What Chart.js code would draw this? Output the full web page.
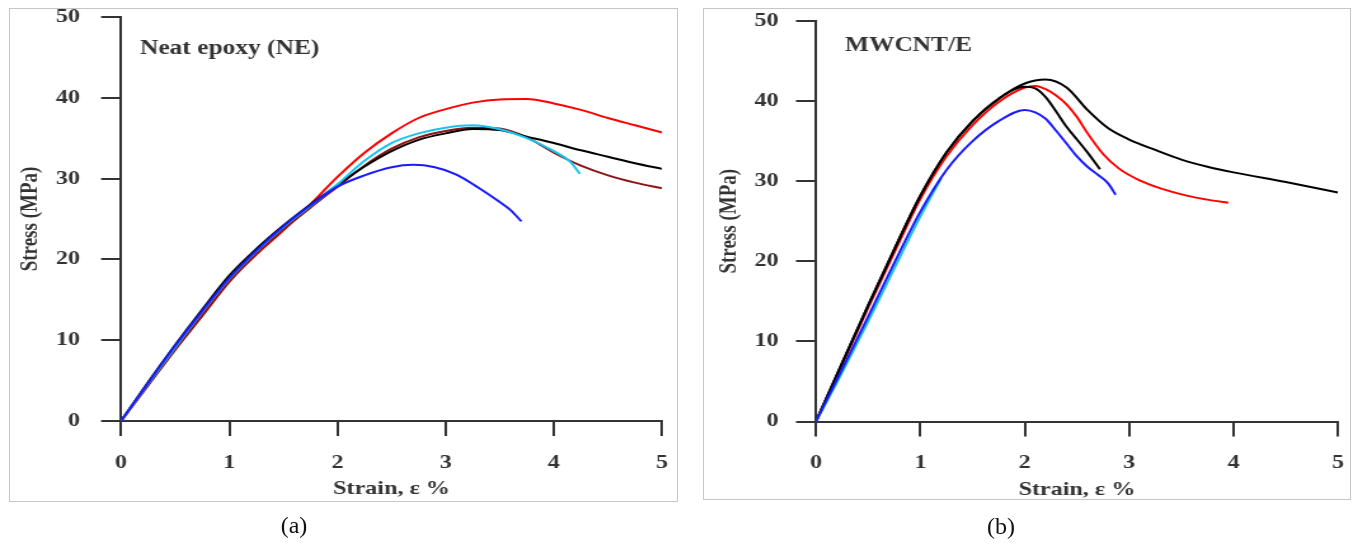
<!DOCTYPE html>
<html><head><meta charset="utf-8">
<script src="https://cdn.jsdelivr.net/npm/chart.js@4"></script>
<style>
html,body{margin:0;padding:0;background:#fff;}
#stage{position:relative;width:1352px;height:544px;overflow:hidden;background:#fff;}
.frame{position:absolute;border:1px solid #c6c6c6;box-sizing:border-box;}
.wrap{position:absolute;top:0;height:544px;transform-origin:0 0;transform:scaleX(1.27);}
.cap{position:absolute;font-family:"Liberation Serif","Times New Roman",serif;font-size:24px;color:#111;transform:translate(-50%,-50%);white-space:nowrap;}
</style></head>
<body><div id="stage">
<div class="frame" style="left:9px;top:8px;width:669px;height:494px"></div>
<div class="frame" style="left:703px;top:8px;width:648px;height:492px"></div>
<div class="wrap" style="left:0;width:535px"><canvas id="c1" width="535" height="544"></canvas></div>
<div class="wrap" style="left:690px;width:521px"><canvas id="c2" width="521" height="544"></canvas></div>
<div class="cap" style="left:294px;top:525px">(a)</div>
<div class="cap" style="left:1001px;top:526px">(b)</div>
</div>
<script>
// ---- tick labels ----
const xTicks = [0, 1, 2, 3, 4, 5];
const yTicks = [0, 10, 20, 30, 40, 50];
const xTitle = 'Strain, ε %';
const yTitle = 'Stress (MPa)';
const panelA = 'Neat epoxy (NE)';
const panelB = 'MWCNT/E';

// ---- (a) Neat epoxy: strain (%) and stress (MPa) ----
const neRedX = [0,0.25,0.5,0.75,1,1.25,1.5,1.75,2,2.25,2.5,2.75,3,3.25,3.5,3.75,4,4.25,4.5,4.75,5];
const neRedY = [0,4.5,8.9,13.1,17.3,20.6,23.6,26.8,30.2,33.2,35.6,37.5,38.6,39.4,39.8,39.85,39.3,38.5,37.5,36.6,35.7];
const neBlackX = [0,0.25,0.5,0.75,1,1.25,1.5,1.75,2,2.25,2.5,2.75,3,3.25,3.5,3.75,4,4.25,4.5,4.75,5];
const neBlackY = [0,4.8,9.4,13.8,18.0,21.3,24.2,26.8,29.2,31.5,33.4,34.8,35.6,36.15,36.0,35.2,34.4,33.5,32.7,31.9,31.2];
const neDarkRedX = [0,0.25,0.5,0.75,1,1.25,1.5,1.75,2,2.25,2.5,2.75,3,3.25,3.5,3.75,4,4.25,4.5,4.75,5];
const neDarkRedY = [0,4.4,8.8,13.0,17.2,20.7,23.7,26.4,29.0,31.6,33.7,35.1,35.9,36.3,36.2,35.1,33.2,31.6,30.4,29.5,28.8];
const neCyanX = [0,0.25,0.5,0.75,1,1.25,1.5,1.75,2,2.25,2.5,2.75,3,3.25,3.5,3.75,4,4.15,4.24];
const neCyanY = [0,4.6,9.1,13.5,17.6,21.0,24.0,26.6,29.3,32.2,34.4,35.6,36.3,36.6,36.1,35.0,33.4,32.1,30.6];
const neBlueX = [0,0.25,0.5,0.75,1,1.25,1.5,1.75,2,2.25,2.5,2.7,2.9,3.1,3.3,3.5,3.6,3.7];
const neBlueY = [0,4.7,9.3,13.6,17.7,21.1,24.1,26.7,29.0,30.4,31.4,31.7,31.4,30.5,28.9,27.1,26.1,24.7];

// ---- (b) MWCNT/E ----
const mwBlackLongX = [0,0.25,0.5,0.75,1,1.25,1.5,1.75,2,2.2,2.4,2.6,2.8,3,3.25,3.5,3.75,4,4.5,5];
const mwBlackLongY = [0,7.3,14.5,21.5,28.2,33.6,37.5,40.3,42.2,42.7,41.7,38.9,36.6,35.2,33.9,32.7,31.8,31.1,29.9,28.6];
const mwBlackShortX = [0,0.25,0.5,0.75,1,1.25,1.5,1.75,2,2.1,2.2,2.3,2.4,2.5,2.6,2.72];
const mwBlackShortY = [0,7.3,14.5,21.5,28.2,33.6,37.5,40.3,41.8,41.6,40.5,38.7,36.8,35.2,33.6,31.5];
const mwRedX = [0,0.25,0.5,0.75,1,1.25,1.5,1.75,2,2.1,2.2,2.3,2.4,2.5,2.6,2.75,2.9,3.1,3.3,3.55,3.75,3.95];
const mwRedY = [0,7.1,14.2,21.1,27.8,33.1,37.0,39.9,41.7,41.9,41.5,40.7,39.6,38.0,36.0,33.4,31.6,30.1,29.1,28.2,27.7,27.3];
const mwBlueX = [0,0.25,0.5,0.75,1,1.25,1.5,1.75,2,2.1,2.2,2.3,2.4,2.5,2.6,2.7,2.8,2.87];
const mwBlueY = [0,6.5,13.1,19.8,26.2,31.4,35.0,37.5,38.9,38.6,37.8,36.3,34.7,33.1,31.8,30.8,29.7,28.3];
const mwCyanX = [0,0.25,0.5,0.75,1,1.2];
const mwCyanY = [0,6.1,12.5,19.1,25.6,30.4];

// label anchor (data coordinates)
const panelALabelAt = [0.176, 45.4];
const panelBLabelAt = [0.278, 46.3];

const pts = (xs, ys) => xs.map((v, i) => ({x: v, y: ys[i]}));
const ds = (xs, ys, color) => ({data: pts(xs, ys), borderColor: color, showLine: true, pointRadius: 0, borderWidth: 2, cubicInterpolationMode: 'monotone', fill: false});

const FONT = '"Liberation Serif","Times New Roman",serif';
const TXT = '#333';

const labelPlugin = {
  id: 'panelLabel',
  afterDraw(chart, args, opts) {
    const {ctx, scales: {x, y}} = chart;
    ctx.save();
    ctx.font = 'bold 20px ' + FONT;
    ctx.fillStyle = TXT;
    ctx.textAlign = 'left';
    ctx.textBaseline = 'alphabetic';
    ctx.fillText(opts.text, x.getPixelForValue(opts.at[0]), y.getPixelForValue(opts.at[1]));
    ctx.restore();
  }
};

function makeChart(id, datasets, c) {
  return new Chart(document.getElementById(id), {
    type: 'scatter',
    data: {datasets},
    options: {
      responsive: false, animation: false, events: [],
      layout: {autoPadding: false, padding: {left: c.padL, right: c.padR, top: c.padT, bottom: c.padB}},
      plugins: {legend: {display: false}, tooltip: {enabled: false}, panelLabel: {text: c.text, at: c.at}},
      scales: {
        x: {
          type: 'linear', min: 0, max: 5,
          afterBuildTicks: ax => { ax.ticks = xTicks.map(v => ({value: v})); },
          afterFit: s => { s.height = c.xH; s.paddingLeft = 0; s.paddingRight = 0; },
          grid: {drawOnChartArea: false, drawTicks: true, tickLength: 15, color: '#333', lineWidth: 2},
          border: {display: true, color: '#333', width: 2},
          ticks: {color: TXT, padding: 15.6, maxRotation: 0, font: {family: FONT, size: 19, weight: 'bold'}},
          title: {display: true, text: xTitle, color: TXT, padding: 0, font: {family: FONT, size: 19, weight: 'bold'}}
        },
        y: {
          type: 'linear', min: 0, max: 50,
          afterBuildTicks: ax => { ax.ticks = yTicks.map(v => ({value: v})); },
          afterFit: s => { s.width = c.yW; s.paddingTop = 0; s.paddingBottom = 0; },
          grid: {drawOnChartArea: false, drawTicks: true, tickLength: 15.7, color: '#333', lineWidth: 2},
          border: {display: true, color: '#333', width: 2},
          ticks: {color: TXT, padding: c.yPad, font: {family: FONT, size: 19, weight: 'bold'}},
          title: {display: true, text: yTitle, color: TXT, padding: 0, font: {family: FONT, size: 19, weight: 'bold'}}
        }
      }
    },
    plugins: [labelPlugin]
  });
}

makeChart('c1', [
  ds(neBlueX, neBlueY, '#1a1aff'),
  ds(neCyanX, neCyanY, '#18c4f0'),
  ds(neBlackX, neBlackY, '#000000'),
  ds(neDarkRedX, neDarkRedY, '#8b1414'),
  ds(neRedX, neRedY, '#ff0000')
], {padL: 12.2, padR: 13.7, padT: 17, padB: 43.6, xH: 79.4, yW: 83.1, yPad: 16.6, text: panelA, at: panelALabelAt});

makeChart('c2', [
  ds(mwBlueX, mwBlueY, '#1a1aff'),
  ds(mwCyanX, mwCyanY, '#18c4f0'),
  ds(mwBlackShortX, mwBlackShortY, '#000000'),
  ds(mwBlackLongX, mwBlackLongY, '#000000'),
  ds(mwRedX, mwRedY, '#ff0000')
], {padL: 19.3, padR: 10.8, padT: 21, padB: 43, xH: 79.5, yW: 79.9, yPad: 13.7, text: panelB, at: panelBLabelAt});
</script>
</body></html>
